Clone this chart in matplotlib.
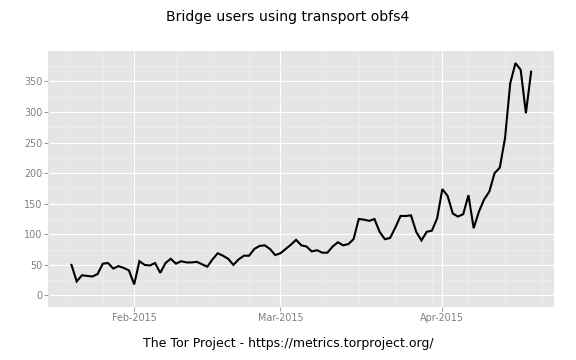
import numpy as np
import matplotlib
matplotlib.use('Agg')
import matplotlib.pyplot as plt
import matplotlib.dates as mdates
from matplotlib.ticker import MultipleLocator, FixedLocator

# daily obfs4 bridge users, 2015-01-20 .. 2015-04-18
start_date = '2015-01-20'
users = [
    50, 23, 33, 32, 31, 35, 52, 53, 44, 48, 45, 41,            # Jan 20-31
    18, 56, 50, 49, 53, 37, 53, 60, 52, 56, 54, 54, 55, 51,    # Feb 1-14
    47, 59, 69, 65, 60, 50, 59, 65, 65, 76, 81, 82, 76, 66,    # Feb 15-28
    69, 76, 83, 91, 82, 80, 72, 74, 70, 70, 80, 87, 82, 84,    # Mar 1-14
    92, 125, 124, 122, 125, 104, 92, 94, 111, 130, 130, 131,   # Mar 15-26
    104, 90, 104, 106, 126,                                     # Mar 27-31
    174, 163, 134, 129, 133, 164, 110, 137, 157, 170, 200,     # Apr 1-11
    209, 257, 347, 380, 369, 298, 366,                          # Apr 12-18
]
dates = np.arange(np.datetime64(start_date), np.datetime64(start_date) + len(users))

major_dates = ['2015-02-01', '2015-03-01', '2015-04-01']
minor_dates = ['2015-01-19', '2015-01-26', '2015-02-09', '2015-02-16', '2015-02-23',
               '2015-03-09', '2015-03-16', '2015-03-23', '2015-03-30',
               '2015-04-06', '2015-04-13', '2015-04-20']

title = 'Bridge users using transport obfs4'
caption = 'The Tor Project - https://metrics.torproject.org/'

fig = plt.figure(figsize=(8, 5), dpi=72)
ax = fig.add_axes([0.0842, 0.147, 0.962 - 0.0842, 0.857 - 0.147])
ax.set_facecolor('#E5E5E5')
for s in ax.spines.values():
    s.set_visible(False)

ax.plot(dates, users, color='black', lw=2.1, solid_joinstyle='miter', zorder=3)

# ggplot-like expansion: 5% on both axes, y from 0
x0 = mdates.date2num(dates[0])
x1 = mdates.date2num(dates[-1])
pad = 0.05 * (x1 - x0)
ax.set_xlim(x0 - pad, x1 + pad)
ymax = max(users)
ax.set_ylim(-0.05 * ymax, ymax * 1.05)

ax.xaxis.set_major_locator(FixedLocator([mdates.datestr2num(d) for d in major_dates]))
ax.xaxis.set_minor_locator(FixedLocator([mdates.datestr2num(d) for d in minor_dates]))
ax.xaxis.set_major_formatter(mdates.DateFormatter('%b-%Y'))
ax.yaxis.set_major_locator(MultipleLocator(50))
ax.yaxis.set_minor_locator(MultipleLocator(25))

ax.grid(which='major', color='white', lw=1.1)
ax.grid(which='minor', color='#F2F2F2', lw=0.6)
ax.set_axisbelow(True)

ax.tick_params(which='major', length=4, width=0.8, color='#7F7F7F',
               labelcolor='#7F7F7F', labelsize=9.6, pad=2)
ax.tick_params(which='minor', length=0)

fig.text(0.5, 1 - 343 / 360, caption, fontsize=12.5, ha='center', va='center')
fig.suptitle(title, fontsize=14, x=0.5, y=0.972)

fig.savefig('out.png', dpi=72)
